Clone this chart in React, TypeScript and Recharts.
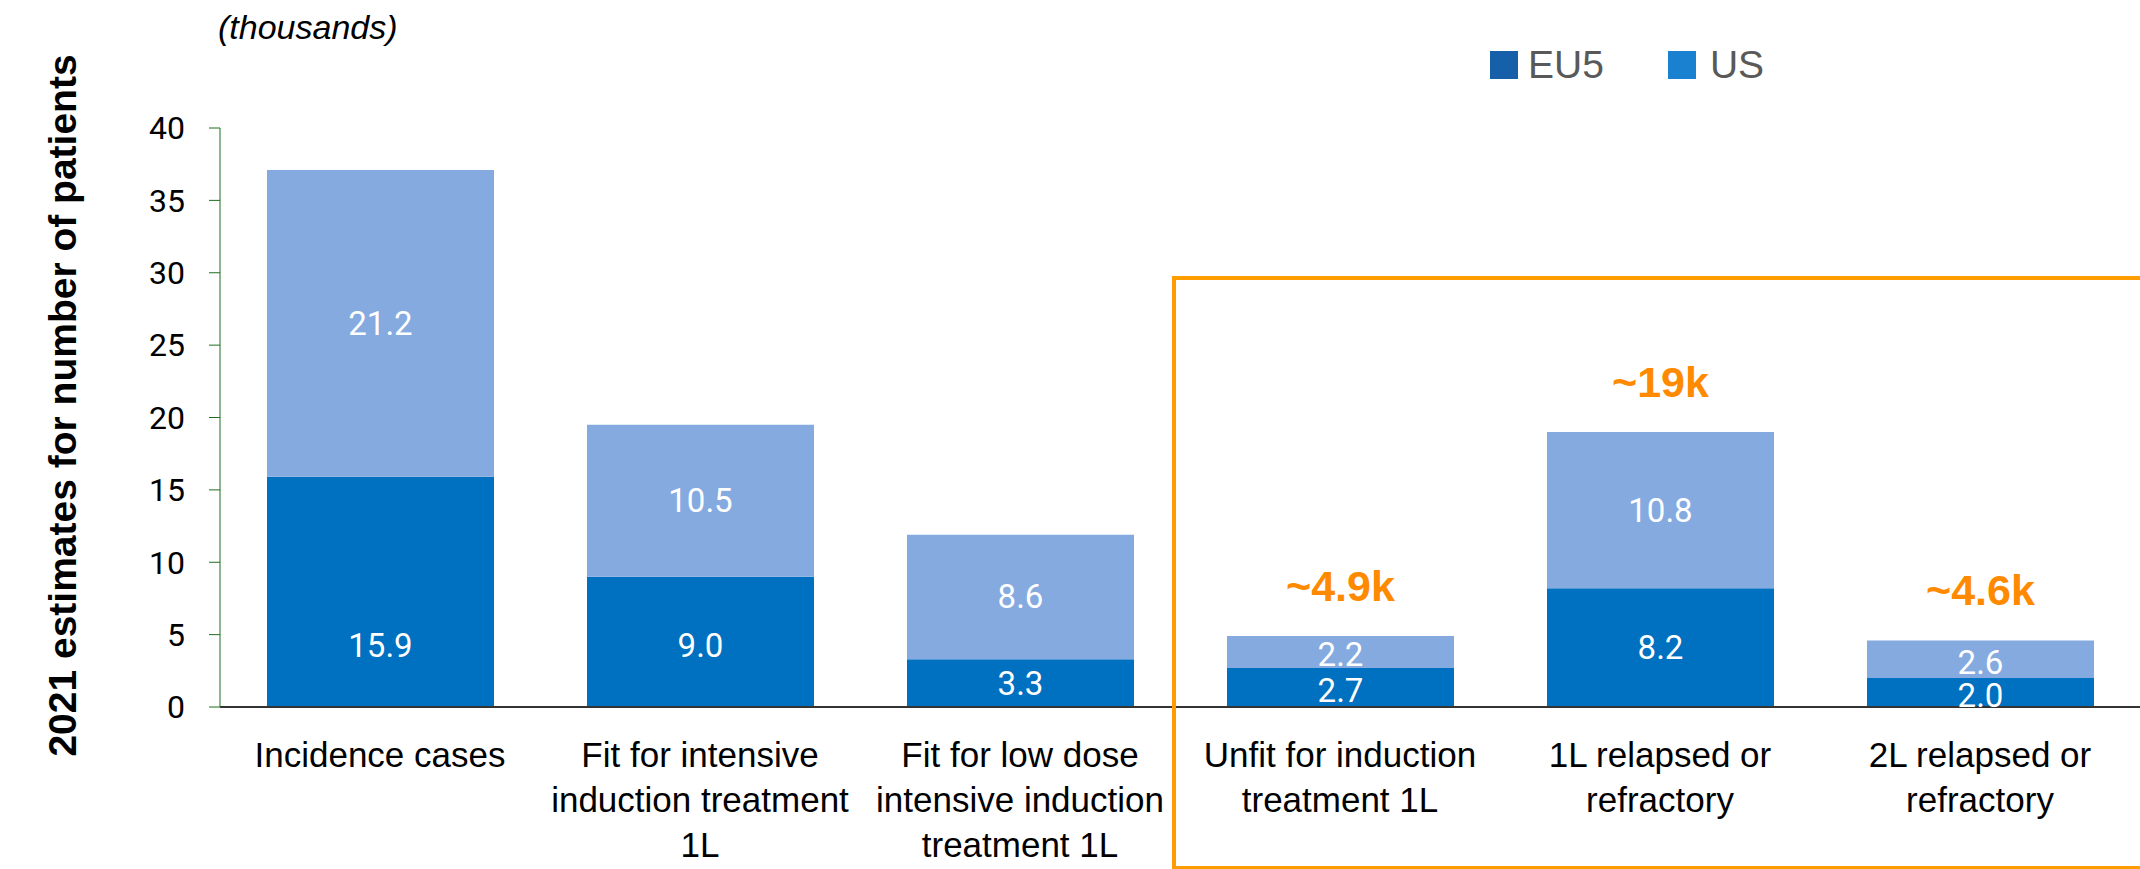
import { BarChart, Bar, XAxis, YAxis, LabelList, Label } from 'recharts'

const categories = [
  'Incidence cases',
  'Fit for intensive\ninduction treatment\n1L',
  'Fit for low dose\nintensive induction\ntreatment 1L',
  'Unfit for induction\ntreatment 1L',
  '1L relapsed or\nrefractory',
  '2L relapsed or\nrefractory',
]
const eu5Values = [15.9, 9.0, 3.3, 2.7, 8.2, 2.0]
const usValues = [21.2, 10.5, 8.6, 2.2, 10.8, 2.6]
const approxTotals = ['', '', '', '~4.9k', '~19k', '~4.6k']
const yTicks = [0, 5, 10, 15, 20, 25, 30, 35, 40]

const data = categories.map((name, i) => ({
  name,
  eu5: eu5Values[i],
  us: usValues[i],
  approx: approxTotals[i],
}))

const FONT = '"Liberation Sans", Arial, sans-serif'
const DARK = '#0070c0'
const LIGHT = '#84aae0'
const ORANGE = '#ff8a00'

function CategoryTick({ x, y, payload }: any) {
  const lines = String(payload.value).split('\n')
  return (
    <text x={x} y={y} textAnchor="middle" fill="#000" fontSize={35} fontFamily={FONT}>
      {lines.map((l, i) => (
        <tspan key={i} x={x} dy={i === 0 ? 52 : 45}>{l}</tspan>
      ))}
    </text>
  )
}

// bottom segment labels sit near the base on tall bars
function BottomLabel({ x, y, width, height, value }: any) {
  const base = y + height
  const ly = height < 45 ? y + height / 2 + 3 : base - Math.min(height / 2, 62)
  return (
    <text x={x + width / 2} y={ly} textAnchor="middle" dominantBaseline="central"
      fill="#fff" fontSize={33} fontFamily="Roboto, sans-serif">
      {Number(value).toFixed(1)}
    </text>
  )
}

function TopLabel({ x, y, width, height, value }: any) {
  const ly = y + height / 2 + (height < 45 ? 3 : 0)
  return (
    <text x={x + width / 2} y={ly} textAnchor="middle" dominantBaseline="central"
      fill="#fff" fontSize={33} fontFamily="Roboto, sans-serif">
      {Number(value).toFixed(1)}
    </text>
  )
}

function ApproxLabel({ x, y, width, index }: any) {
  const t = approxTotals[index]
  if (!t) return null
  return (
    <text x={x + width / 2} y={y - 50} textAnchor="middle" dominantBaseline="central"
      fill={ORANGE} fontSize={43} fontWeight="bold" fontFamily={FONT}>
      {t}
    </text>
  )
}

function YTitle({ viewBox }: any) {
  const cx = 62
  const cy = viewBox.y + viewBox.height / 2 - 12
  return (
    <text x={cx} y={cy} transform={`rotate(-90 ${cx} ${cy})`} textAnchor="middle"
      dominantBaseline="central" fill="#000" fontSize={39} fontWeight="bold" fontFamily={FONT}>
      2021 estimates for number of patients
    </text>
  )
}

export default function App() {
  return (
    <div style={{ position: 'absolute', left: 0, top: 0, width: 2140, height: 869, background: '#fff', overflow: 'hidden' }}>
      <div style={{ position: 'absolute', left: 218, top: 8, fontSize: 34, fontStyle: 'italic', fontFamily: FONT, color: '#000' }}>
        (thousands)
      </div>
      <div style={{ position: 'absolute', left: 1490, top: 43, display: 'flex', alignItems: 'center', fontFamily: FONT, fontSize: 39, color: '#595959' }}>
        <span style={{ width: 28, height: 28, background: '#1560a8', display: 'inline-block', marginRight: 10 }} />
        <span>EU5</span>
        <span style={{ width: 28, height: 28, background: '#1a80d0', display: 'inline-block', marginLeft: 64, marginRight: 14 }} />
        <span>US</span>
      </div>
      <BarChart
        width={2140}
        height={869}
        data={data}
        margin={{ top: 128, right: 0, bottom: 12, left: 20 }}
      >
        <XAxis
          dataKey="name"
          interval={0}
          height={150}
          tick={<CategoryTick />}
          tickLine={false}
          axisLine={{ stroke: '#333', strokeWidth: 2 }}
        />
        <YAxis
          width={200}
          domain={[0, 40]}
          ticks={yTicks}
          interval={0}
          tickSize={11}
          tickMargin={24}
          stroke="#1e6e1e"
          tick={{ fill: '#000', fontSize: 32, fontFamily: 'Roboto, sans-serif' }}
        >
          <Label content={<YTitle />} />
        </YAxis>
        <Bar dataKey="eu5" stackId="a" fill={DARK} barSize={227} isAnimationActive={false}>
          <LabelList dataKey="eu5" content={<BottomLabel />} />
        </Bar>
        <Bar dataKey="us" stackId="a" fill={LIGHT} barSize={227} isAnimationActive={false}>
          <LabelList dataKey="us" content={<TopLabel />} />
          <LabelList dataKey="approx" content={<ApproxLabel />} />
        </Bar>
      </BarChart>
      <div style={{ position: 'absolute', left: 1172, top: 276, width: 1100, height: 586, border: '4px solid #ff9c00', boxSizing: 'content-box' }} />
    </div>
  )
}
